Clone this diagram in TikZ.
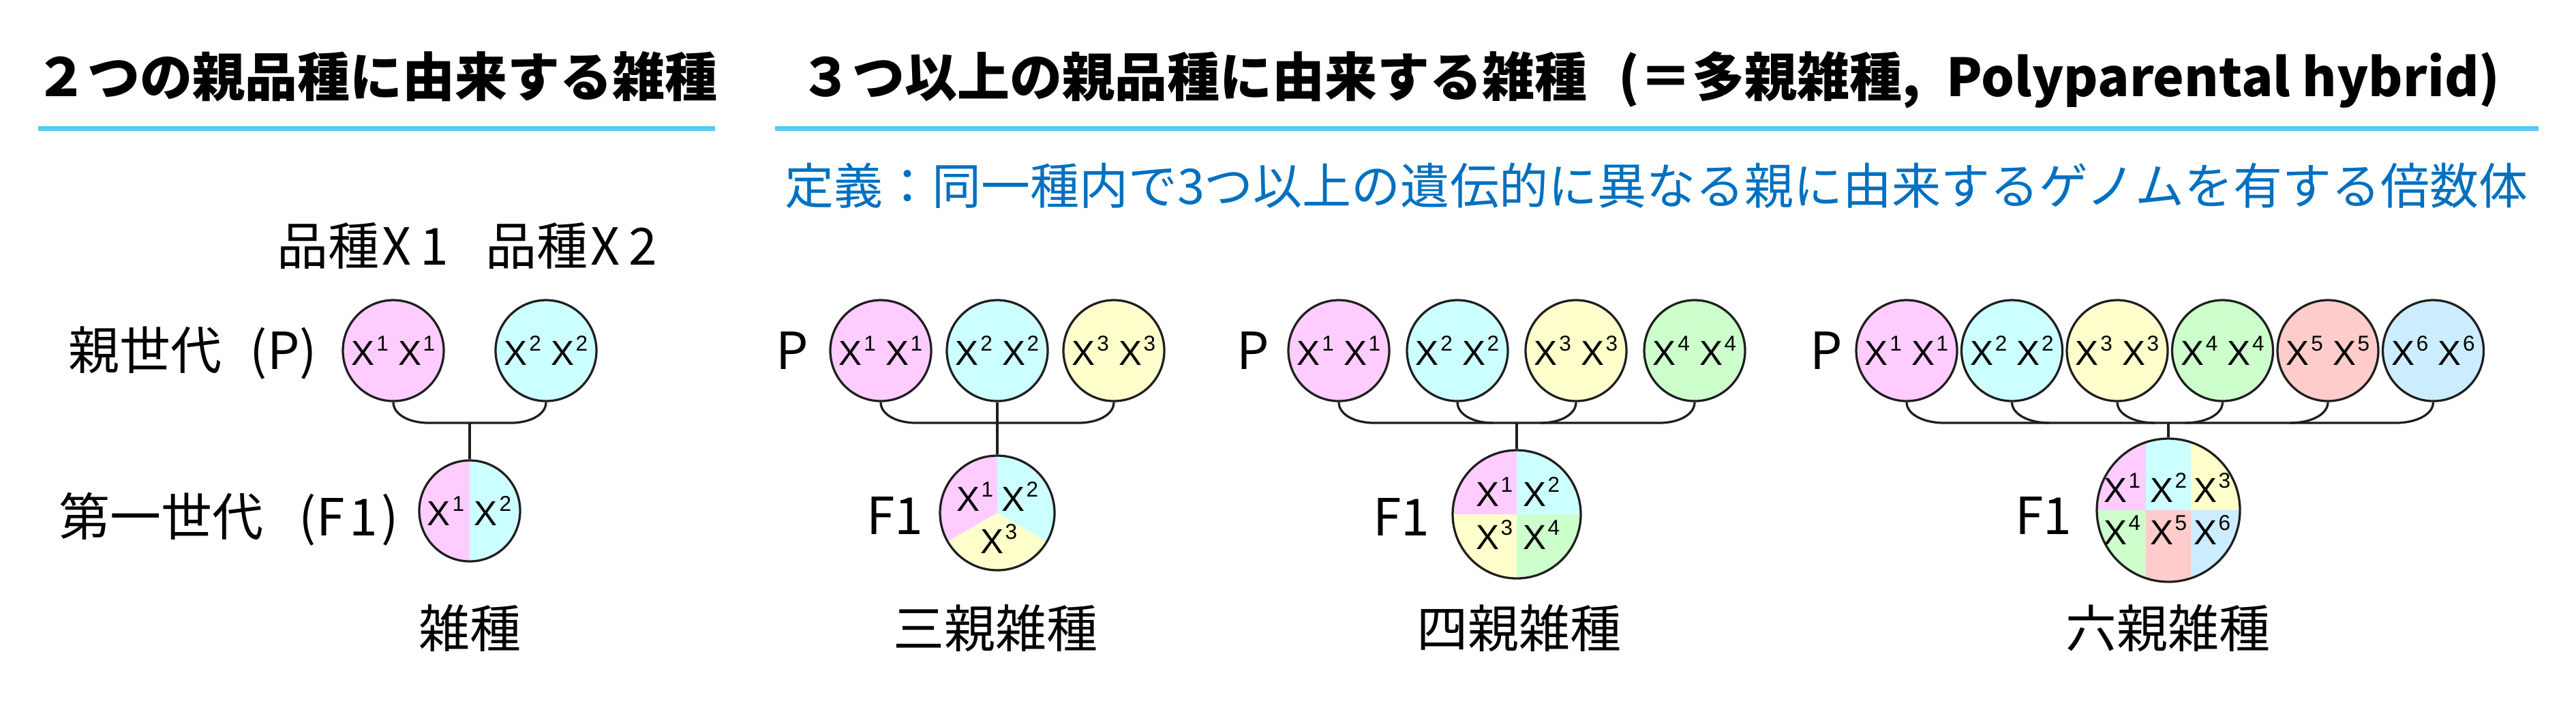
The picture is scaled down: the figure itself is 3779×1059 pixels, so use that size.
\documentclass[tikz,border=0pt]{standalone}
\usepackage{fontspec}
\setmainfont{Noto Sans CJK JP}
\newfontfamily\arialf{Liberation Sans}
\usetikzlibrary{calc}
\definecolor{pinkc}{RGB}{255,204,255}
\definecolor{cyanc}{RGB}{204,255,255}
\definecolor{yellowc}{RGB}{255,255,204}
\definecolor{greenc}{RGB}{204,255,204}
\definecolor{salmonc}{RGB}{255,204,204}
\definecolor{bluec}{RGB}{204,236,255}
\definecolor{rulec}{RGB}{90,200,240}
\definecolor{deftext}{RGB}{0,112,192}
\definecolor{edge}{RGB}{30,30,30}
\newcommand\Xs[1]{X\kern0.5pt\raisebox{4.1pt}{\fontsize{6.3}{6.5}\selectfont #1}}
\begin{document}
\begin{tikzpicture}[x=0.2pt,y=-0.2pt,
  pc/.style={circle,draw=edge,line width=0.65pt,minimum size=29.6pt,inner sep=0pt,font=\arialf\fontsize{10.2}{10.5}\selectfont},
  fc/.style={circle,draw=edge,line width=0.65pt,inner sep=0pt},
  xt/.style={inner sep=0pt,font=\arialf\fontsize{10.2}{10.5}\selectfont},
  conn/.style={draw=edge,line width=0.65pt},
  lab/.style={anchor=base,inner sep=0pt,font=\fontsize{15}{18}\selectfont},
  ttl/.style={anchor=base west,inner sep=0pt,font=\fontsize{15.4}{18}\selectfont\bfseries},
  rule/.style={draw=rulec,line width=1.4pt}]
\useasboundingbox (0,0) rectangle (3779,1059);
\fill[white] (0,0) rectangle (3779,1059);

% ---------- titles ----------
\node[ttl] (t1) at (50,141) {２つの親品種に由来する雑種};
\node[ttl] (t2) at (1172,141) {３つ以上の親品種に由来する雑種\hspace{0.6em}(＝多親雑種,\hspace{0.5em}Polyparental hybrid)};
\coordinate (r1a) at (56,188); \coordinate (r1b) at (1049,188);
\draw[rule] (r1a) -- (r1b);
\coordinate (r2a) at (1137,188); \coordinate (r2b) at (3724,188);
\draw[rule] (r2a) -- (r2b);
\node[anchor=base west,inner sep=0pt,text=deftext,font=\fontsize{14.4}{17}\selectfont] (def) at (1150,299) {定義：同一種内で3つ以上の遺伝的に異なる親に由来するゲノムを有する倍数体};

% ---------- two parents ----------
\node[lab,anchor=base west] (av1) at (405,388) {品種\kern1pt X\kern2.5pt 1};
\node[lab,anchor=base west] (av2) at (711,388) {品種\kern1pt X\kern2.5pt 2};
\node[lab,anchor=base east] (agp) at (466,541) {親世代\hspace{0.55em}(P)};
\node[lab,anchor=base east] (agf) at (586,785) {第一世代\hspace{0.7em}(F\kern1.5pt 1\kern1pt)};
\node[pc,fill=pinkc] (a1) at (577,514) {\Xs{1} \Xs{1}};
\node[pc,fill=cyanc] (a2) at (801,514) {\Xs{2} \Xs{2}};
\coordinate (ac) at (689,749);
\begin{scope}
  \clip (ac) circle[radius=74];
  \fill[pinkc] ($(ac)+(0,-100)$) rectangle ($(ac)+(-100,100)$);
  \fill[cyanc] ($(ac)+(0,-100)$) rectangle ($(ac)+(100,100)$);
\end{scope}
\node[fc,minimum size=29.6pt] (af) at (ac) {};
\node[xt] (ax1) at ($(ac)+(-35,0)$) {\Xs{1}};
\node[xt] (ax2) at ($(ac)+(34,0)$) {\Xs{2}};
\coordinate (aj1) at (629,620); \coordinate (aj2) at (749,620); \coordinate (am) at (689,620);
\draw[conn] (a1.south) .. controls +(0,18) and +(-29,0) .. (aj1) -- (aj2) .. controls +(29,0) and +(0,18) .. (a2.south);
\draw[conn] (am) -- (af.north);
\node[lab] (an) at (689,949) {雑種};

% ---------- three parents ----------
\node[lab] (bp) at (1162,541) {P};
\node[pc,fill=pinkc] (b1) at (1292,514) {\Xs{1} \Xs{1}};
\node[pc,fill=cyanc] (b2) at (1463,514) {\Xs{2} \Xs{2}};
\node[pc,fill=yellowc] (b3) at (1634,514) {\Xs{3} \Xs{3}};
\coordinate (bc) at (1463,752);
\begin{scope}
  \clip (bc) circle[radius=84];
  \fill[pinkc] (bc) -- ++(0,-300) -- ++(-300,0) -- ++(0,473.2) -- cycle;
  \fill[cyanc] (bc) -- ++(0,-300) -- ++(300,0) -- ++(0,473.2) -- cycle;
  \fill[yellowc] (bc) -- ++(-300,173.2) -- ++(0,300) -- ++(600,0) -- ++(0,-300) -- cycle;
\end{scope}
\node[fc,minimum size=33.6pt] (bf) at (bc) {};
\node[xt] (bx1) at ($(bc)+(-33,-24)$) {\Xs{1}};
\node[xt] (bx2) at ($(bc)+(33,-24)$) {\Xs{2}};
\node[xt] (bx3) at ($(bc)+(2,38)$) {\Xs{3}};
\node[lab] (bfl) at (1313,783) {F1};
\coordinate (bj1) at (1344,620); \coordinate (bj2) at (1582,620);
\draw[conn] (b1.south) .. controls +(0,18) and +(-29,0) .. (bj1) -- (bj2) .. controls +(29,0) and +(0,18) .. (b3.south);
\draw[conn] (b2.south) -- (bf.north);
\node[lab] (bn) at (1460,949) {三親雑種};

% ---------- four parents ----------
\node[lab] (dp) at (1838,541) {P};
\node[pc,fill=pinkc] (d1) at (1964,514) {\Xs{1} \Xs{1}};
\node[pc,fill=cyanc] (d2) at (2138,514) {\Xs{2} \Xs{2}};
\node[pc,fill=yellowc] (d3) at (2312,514) {\Xs{3} \Xs{3}};
\node[pc,fill=greenc] (d4) at (2486,514) {\Xs{4} \Xs{4}};
\coordinate (dc) at (2225,754);
\begin{scope}
  \clip (dc) circle[radius=94];
  \fill[pinkc] (dc) rectangle ++(-120,-120);
  \fill[cyanc] (dc) rectangle ++(120,-120);
  \fill[yellowc] (dc) rectangle ++(-120,120);
  \fill[greenc] (dc) rectangle ++(120,120);
\end{scope}
\node[fc,minimum size=37.6pt] (df) at (dc) {};
\node[xt] (dx1) at ($(dc)+(-33,-33)$) {\Xs{1}};
\node[xt] (dx2) at ($(dc)+(36,-33)$) {\Xs{2}};
\node[xt] (dx3) at ($(dc)+(-33,30)$) {\Xs{3}};
\node[xt] (dx4) at ($(dc)+(36,30)$) {\Xs{4}};
\node[lab] (dfl) at (2056,785) {F1};
\coordinate (dj1) at (2016,620); \coordinate (dj2) at (2190,620);
\coordinate (dj3) at (2260,620); \coordinate (dj4) at (2434,620);
\coordinate (dm) at (2225,620);
\draw[conn] (d1.south) .. controls +(0,18) and +(-29,0) .. (dj1) -- (dj4) .. controls +(29,0) and +(0,18) .. (d4.south);
\draw[conn] (d2.south) .. controls +(0,18) and +(-29,0) .. (dj2);
\draw[conn] (d3.south) .. controls +(0,18) and +(29,0) .. (dj3);
\draw[conn] (dm) -- (df.north);
\node[lab] (dn) at (2228,949) {四親雑種};

% ---------- six parents ----------
\node[lab] (ep) at (2679,541) {P};
\node[pc,fill=pinkc] (e1) at (2797,514) {\Xs{1} \Xs{1}};
\node[pc,fill=cyanc] (e2) at (2951.5,514) {\Xs{2} \Xs{2}};
\node[pc,fill=yellowc] (e3) at (3106,514) {\Xs{3} \Xs{3}};
\node[pc,fill=greenc] (e4) at (3260.5,514) {\Xs{4} \Xs{4}};
\node[pc,fill=salmonc] (e5) at (3415,514) {\Xs{5} \Xs{5}};
\node[pc,fill=bluec] (e6) at (3569.5,514) {\Xs{6} \Xs{6}};
\coordinate (ec) at (3181,748);
\begin{scope}
  \clip (ec) circle[radius=105];
  \fill[pinkc] ($(ec)+(-33,0)$) rectangle ($(ec)+(-140,-140)$);
  \fill[cyanc] ($(ec)+(-33,0)$) rectangle ($(ec)+(33,-140)$);
  \fill[yellowc] ($(ec)+(33,0)$) rectangle ($(ec)+(140,-140)$);
  \fill[greenc] ($(ec)+(-33,0)$) rectangle ($(ec)+(-140,140)$);
  \fill[salmonc] ($(ec)+(-33,0)$) rectangle ($(ec)+(33,140)$);
  \fill[bluec] ($(ec)+(33,0)$) rectangle ($(ec)+(140,140)$);
\end{scope}
\node[fc,minimum size=42pt] (ef) at (ec) {};
\node[xt] (ex1) at ($(ec)+(-68,-33)$) {\Xs{1}};
\node[xt] (ex2) at ($(ec)+(0,-33)$) {\Xs{2}};
\node[xt] (ex3) at ($(ec)+(64,-33)$) {\Xs{3}};
\node[xt] (ex4) at ($(ec)+(-68,29)$) {\Xs{4}};
\node[xt] (ex5) at ($(ec)+(0,29)$) {\Xs{5}};
\node[xt] (ex6) at ($(ec)+(64,29)$) {\Xs{6}};
\node[lab] (efl) at (2998,783) {F1};
\coordinate (ej1) at (2852,620); \coordinate (ej2) at (3006.5,620);
\coordinate (ej3) at (3161,620); \coordinate (ej4) at (3205.5,620);
\coordinate (ej5) at (3360,620); \coordinate (ej6) at (3514.5,620);
\coordinate (em) at (3181,620);
\draw[conn] (e1.south) .. controls +(0,18) and +(-30,0) .. (ej1) -- (ej6) .. controls +(30,0) and +(0,18) .. (e6.south);
\draw[conn] (e2.south) .. controls +(0,18) and +(-30,0) .. (ej2);
\draw[conn] (e3.south) .. controls +(0,18) and +(-30,0) .. (ej3);
\draw[conn] (e4.south) .. controls +(0,18) and +(30,0) .. (ej4);
\draw[conn] (e5.south) .. controls +(0,18) and +(30,0) .. (ej5);
\draw[conn] (em) -- (ef.north);
\node[lab] (en) at (3180,949) {六親雑種};
\end{tikzpicture}
\end{document}
